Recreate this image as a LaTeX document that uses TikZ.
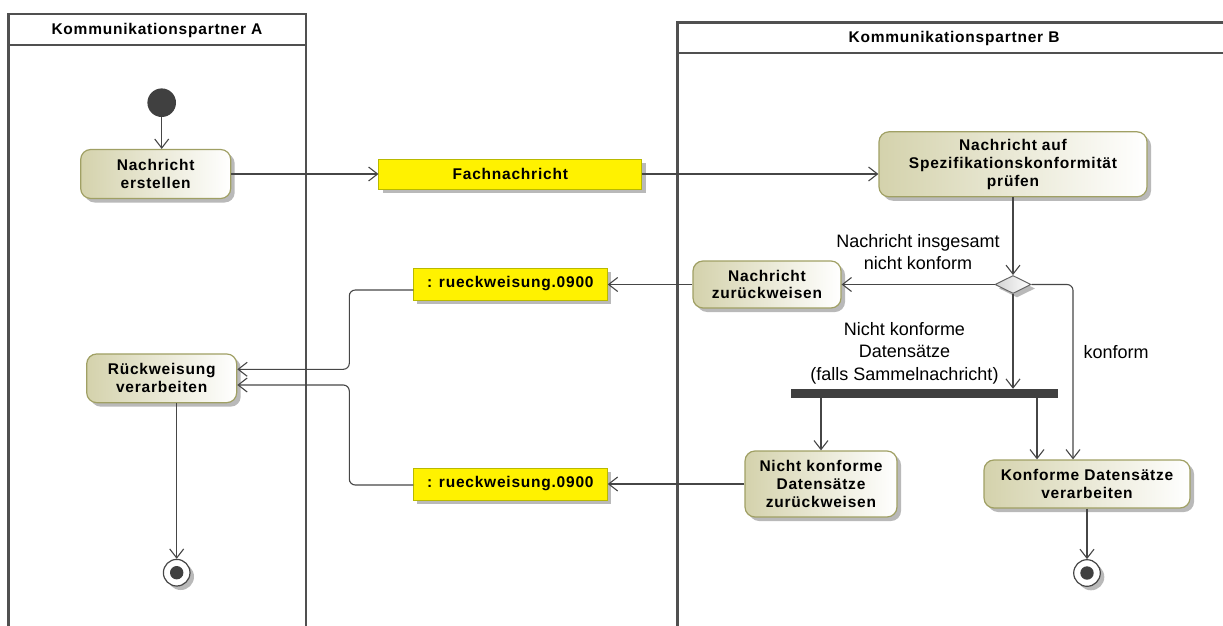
\documentclass[tikz,border=0pt]{standalone}
\usepackage{fontspec}
\setmainfont{Liberation Sans}
\newfontfamily\nodefont{Liberation Sans}[LetterSpace=5]
\usetikzlibrary{arrows.meta,shapes.geometric,shadows}
\definecolor{ln}{RGB}{70,70,70}
\definecolor{lanec}{RGB}{80,80,80}
\definecolor{actborder}{RGB}{160,160,100}
\definecolor{actfill}{RGB}{212,210,172}
\definecolor{objborder}{RGB}{185,185,0}
\definecolor{shadowc}{RGB}{185,185,185}
\definecolor{dark}{RGB}{64,64,64}
\tikzset{
  shad/.style={drop shadow={shadow xshift=4pt, shadow yshift=-4pt, fill=shadowc, opacity=1}},
  bfnt/.style={font=\nodefont\bfseries\fontsize{15.5pt}{17.8pt}\selectfont},
  act/.style={draw=actborder, line width=1.2pt, rounded corners=10pt, left color=actfill, right color=white, shad, align=center, bfnt, inner sep=0pt},
  obj/.style={draw=objborder, fill=yellow, line width=1pt, shad, bfnt, inner sep=0pt, minimum height=32pt},
  lbl/.style={align=center, font=\fontsize{18pt}{22.5pt}\selectfont, inner sep=0pt},
  hdr/.style={font=\nodefont\bfseries\fontsize{15.5pt}{18pt}\selectfont, inner sep=0pt},
  lanestyle/.style={draw=lanec, line width=2.4pt},
  flow/.style={draw=ln, line width=1.1pt, -{Straight Barb[length=9pt,width=14pt]}},
  endnode/.style={circle, draw=ln, line width=1.2pt, fill=white, minimum size=26.6pt, inner sep=0pt, shad,
    path picture={\fill[dark] (path picture bounding box.center) circle (6.7pt);}},
}
\begin{document}
\begin{tikzpicture}[x=1pt,y=-1pt]
\useasboundingbox (0,0) rectangle (1223,626);
% swimlanes
\draw[lanestyle] (8.3,640) -- (8.3,14) -- (305.7,14) -- (305.7,640);
\draw[lanestyle] (8.3,45) -- (305.7,45);
\draw[lanestyle] (677.5,640) -- (677.5,22.7) -- (1240,22.7);
\draw[lanestyle] (677.5,53.3) -- (1240,53.3);
\node[hdr] (hA) at (157,30) {Kommunikationspartner A};
\node[hdr] (hB) at (954,38.5) {Kommunikationspartner B};
% nodes
\node[circle, fill=dark, minimum size=28.6pt, inner sep=0pt] (start) at (161.7,102.7) {};
\node[act, minimum width=150pt, minimum height=49pt] (erst) at (155.7,174) {Nachricht\\erstellen};
\node[obj, minimum width=262.7pt, minimum height=30pt] (fach) at (510.3,174) {Fachnachricht};
\node[act, minimum width=268pt, minimum height=65pt] (pruef) at (1013,164.3) {Nachricht auf\\Spezifikationskonformität\\prüfen};
\node[diamond, draw=gray!80!black, line width=1pt, left color=gray!35, right color=white, minimum width=36pt, minimum height=18pt, inner sep=0pt, shad] (dec) at (1013,284.5) {};
\node[act, minimum width=148pt, minimum height=47pt] (nzw) at (767,284.5) {Nachricht\\zurückweisen};
\node[obj, minimum width=194pt] (rw1) at (510.3,284) {: rueckweisung.0900};
\node[obj, minimum width=194pt] (rw2) at (510.3,484) {: rueckweisung.0900};
\node[act, minimum width=150pt, minimum height=48.7pt] (rv) at (161.7,378.3) {Rückweisung\\verarbeiten};
\node[rectangle, fill=dark, minimum width=267pt, minimum height=9pt, inner sep=0pt] (bar) at (924.5,393.5) {};
\node[act, minimum width=152pt, minimum height=66pt] (nk) at (821,484) {Nicht konforme\\Datensätze\\zurückweisen};
\node[act, minimum width=206pt, minimum height=48pt] (kon) at (1087,484) {Konforme Datensätze\\verarbeiten};
\node[endnode] (endA) at (176.7,572.7) {};
\node[endnode] (endB) at (1087,573) {};
% helper coordinates
\coordinate (dR) at (1073,284.5);
\coordinate (r1out) at (413.3,290);
\coordinate (j1a) at (349.3,290);
\coordinate (j1b) at (349.3,369.3);
\coordinate (j2a) at (349.3,485);
\coordinate (j2b) at (349.3,385);
\coordinate (r2out) at (413.3,485);
\coordinate (b2) at (1037,398);
% connectors
\draw[flow] (start) -- (start.south |- erst.north);
\draw[flow] (erst.east) -- (fach.west);
\draw[flow] (fach.east) -- (fach.east -| pruef.west);
\draw[flow] (pruef.south -| dec.north) -- (dec.north);
\draw[flow] (dec.west) -- (nzw.east);
\draw[flow, rounded corners=6pt] (dec.east) -- (dR) -- (dR |- kon.north);
\draw[flow] (dec.south) -- (dec.south |- bar.north);
\draw[flow] (bar.south -| nk.north) -- (nk.north);
\draw[flow] (b2) -- (b2 |- kon.north);
\draw[flow] (kon.south) -- (endB.north);
\draw[flow] (nzw.west) -- (nzw.west -| rw1.east);
\draw[flow] (nk.west) -- (nk.west -| rw2.east);
\draw[flow, rounded corners=6pt] (r1out) -- (j1a) -- (j1b) -- (j1b -| rv.east);
\draw[flow, rounded corners=6pt] (r2out) -- (j2a) -- (j2b) -- (j2b -| rv.east);
\draw[flow] (endA.north |- rv.south) -- (endA.north);
% labels
\node[lbl] (l1) at (918,252) {Nachricht insgesamt\\nicht konform};
\node[lbl] (l2) at (904.5,353) {Nicht konforme\\Datensätze\\(falls Sammelnachricht)};
\node[lbl] (l3) at (1116,352) {konform};
\end{tikzpicture}
\end{document}
